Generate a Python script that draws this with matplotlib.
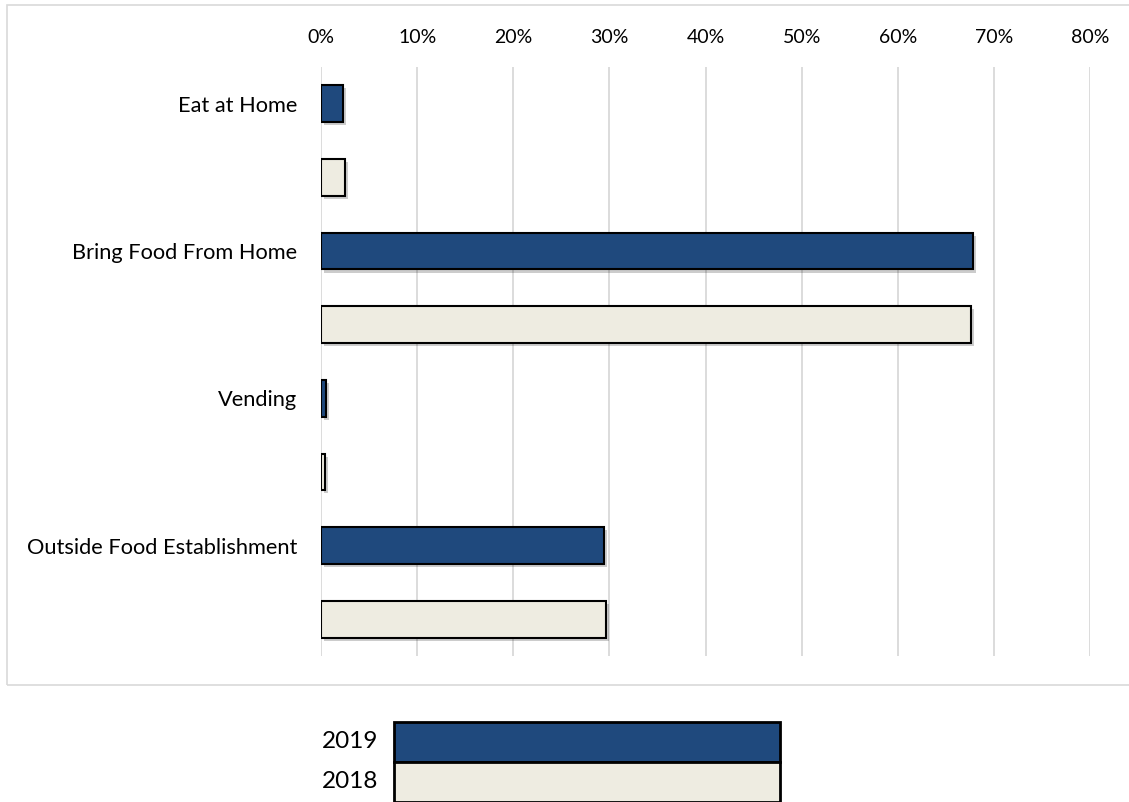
import matplotlib
matplotlib.use("Agg")
import matplotlib.pyplot as plt
import matplotlib.patheffects as pe
from matplotlib.patches import Rectangle
from matplotlib.ticker import PercentFormatter

plt.rcParams['font.family'] = ['Lato', 'DejaVu Sans']

categories = ["Eat at Home", "Bring Food From Home", "Vending", "Outside Food Establishment"]
series_names = ["2019", "2018"]
values_2019 = [2.3, 67.8, 0.5, 29.4]
values_2018 = [2.5, 67.6, 0.4, 29.6]
xticks = [0, 10, 20, 30, 40, 50, 60, 70, 80]

c2019 = "#1F497D"
c2018 = "#EEECE1"
grid_c = "#D9D9D9"

W, H = 1129, 802
fig = plt.figure(figsize=(W / 100, H / 100), dpi=100)

# outer chart border
fig.patches.append(Rectangle((7 / W, 1 - 685 / H), 1.1, (685 - 5) / H,
                             transform=fig.transFigure, fill=False,
                             edgecolor=grid_c, linewidth=1.2))

ax = fig.add_axes([321 / W, 1 - 656 / H, (1090 - 321) / W, (656 - 67) / H])

shadow = [pe.SimplePatchShadow(offset=(2.2, -2.2), shadow_rgbFace='black', alpha=0.2), pe.Normal()]

pos19 = [2 * i for i in range(len(categories))]
pos18 = [2 * i + 1 for i in range(len(categories))]
b1 = ax.barh(pos19, values_2019, height=0.5, color=c2019, edgecolor='black', linewidth=1.5, zorder=3)
b2 = ax.barh(pos18, values_2018, height=0.5, color=c2018, edgecolor='black', linewidth=1.5, zorder=3)
for b in list(b1) + list(b2):
    b.set_path_effects(shadow)

ax.set_xlim(0, 80)
ax.set_ylim(len(categories) * 2 - 0.5, -0.5)
ax.set_xticks(xticks)
ax.xaxis.set_major_formatter(PercentFormatter(decimals=0))
ax.xaxis.tick_top()
ax.set_yticks(pos19)
ax.set_yticklabels(categories)
ax.tick_params(axis='x', length=0, pad=15, labelsize=14)
ax.tick_params(axis='y', length=0, pad=17, labelsize=15.7)
ax.grid(axis='x', color=grid_c, linewidth=1.3, zorder=0)
for s in ax.spines.values():
    s.set_visible(False)
ax.set_facecolor('none')

# legend as table-like swatches
lax = fig.add_axes([394 / W, 0, (780 - 394) / W, (802 - 722) / H])
lax.set_xlim(0, 1)
lax.set_ylim(0, 2)
lax.axis('off')
for i, (name, col) in enumerate(zip(series_names, [c2019, c2018])):
    y0 = 1 - i
    lax.add_patch(Rectangle((0, y0), 1, 1, facecolor=col, edgecolor='black', linewidth=2, clip_on=False))
    lax.text(-0.04, y0 + 0.5, name, ha='right', va='center', fontsize=17.5)

fig.savefig("out.png", dpi=100)
